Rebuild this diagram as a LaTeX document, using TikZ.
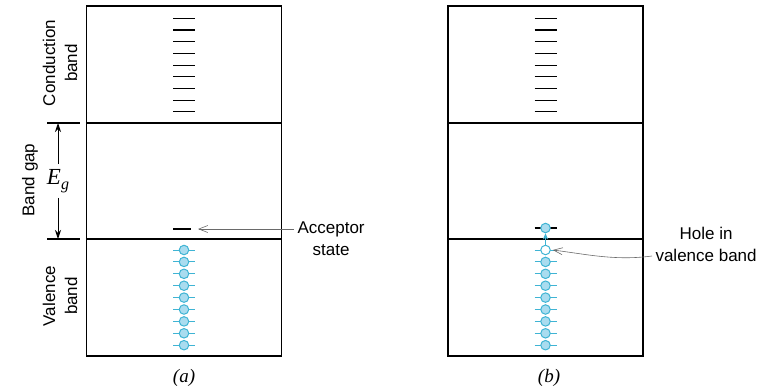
\documentclass[tikz,border=0pt]{standalone}
\usepackage{fontspec}
\usetikzlibrary{arrows.meta, positioning, calc}
\newfontfamily\labelsans{Liberation Sans}
\newfontfamily\labelserif{Liberation Serif}
\definecolor{eline}{HTML}{3FB4D4}
\definecolor{efill}{HTML}{A9DCEF}
\definecolor{pointgray}{HTML}{6A6A6A}

\begin{document}
\begin{tikzpicture}[
  x=1pt, y=-1pt,
  bandbox/.style={rectangle, draw=black, line width=1.1pt, minimum width=195pt,
    minimum height=350pt, inner sep=0pt},
  divider/.style={draw=black, line width=1.1pt},
  level/.style={draw=black, line width=1.1pt},
  elevel/.style={draw=eline, line width=1pt},
  electron/.style={circle, draw=eline, fill=efill, line width=1pt,
    minimum size=9.5pt, inner sep=0pt},
  hole/.style={electron, fill=white},
  lbl/.style={font=\labelsans\fontsize{17}{22}\selectfont, align=center},
  caption/.style={font=\labelserif\fontsize{19}{21}\selectfont\itshape},
  pointer/.style={-{Straight Barb[length=9pt, width=7pt]}, draw=pointgray, line width=0.6pt},
  gaparrow/.style={-{Stealth[length=9pt, width=6pt, inset=3pt]}, line width=0.9pt},
  hop/.style={-{Stealth[length=6pt, width=5pt, inset=1.5pt]}, draw=eline, line width=1.2pt}
]
\useasboundingbox (0,0) rectangle (767,386);

% the two band diagrams
\node (boxa) [bandbox] at (184,181) {};
\node (boxb) [bandbox] at (545.5,181) {};

\coordinate (cba) at (184,123);
\coordinate (vba) at (184,239);
\coordinate (cbb) at (545.5,123);
\coordinate (vbb) at (545.5,239);

\draw [divider] (boxa.west |- cba) -- (boxa.east |- cba);
\draw [divider] (boxa.west |- vba) -- (boxa.east |- vba);
\draw [divider] (boxb.west |- cbb) -- (boxb.east |- cbb);
\draw [divider] (boxb.west |- vbb) -- (boxb.east |- vbb);

% conduction band levels
\foreach \i in {0,...,8} {
  \draw [level] (173,18.3+11.7*\i) -- (195,18.3+11.7*\i);
  \draw [level] (534.5,18.3+11.7*\i) -- (556.5,18.3+11.7*\i);
}

% valence band electrons (a)
\foreach \i in {0,...,8} {
  \draw [elevel] (173,250+11.9*\i) -- (195,250+11.9*\i);
  \node [electron] at (184,250+11.9*\i) {};
}

% valence band electrons (b), top one leaves a hole
\foreach \i in {1,...,8} {
  \draw [elevel] (534.5,250+11.9*\i) -- (556.5,250+11.9*\i);
  \node [electron] at (545.5,250+11.9*\i) {};
}
\draw [elevel] (534.5,250) -- (556.5,250);
\node (holeb) [hole] at (545.5,250) {};

% acceptor levels
\draw [level] (173,229) -- (191,229);
\coordinate (acca) at (198,229);
\draw [level] (534.5,228) -- (556.5,228);
\node (accb) [electron] at (545.5,228) {};
\draw [hop] (holeb.north) -- (accb.south);

% band gap marker
\draw [divider] (47,123) -- (80,123);
\draw [divider] (47,239) -- (80,239);
\node (eg) [font=\labelserif\fontsize{23}{24}\selectfont\itshape, inner sep=5pt] at (58,181)
  {E\raisebox{-5pt}{\fontsize{16}{16}\selectfont g}};
\draw [gaparrow] (eg.north) -- (58,123);
\draw [gaparrow] (eg.south) -- (58,239);

% side labels
\node (cond) [lbl, rotate=90] at (60,63) {Conduction\\band};
\node (gap) [lbl, rotate=90] at (30,180) {Band gap};
\node (val) [lbl, rotate=90] at (60,296) {Valence\\band};

% pointers
\node (acc) [lbl, anchor=west] at (294,239) {Acceptor\\state};
\draw [pointer] (acc.west |- acca) -- (acca);
\node (holetxt) [lbl, anchor=west] at (652,244) {Hole in\\valence band};
\coordinate (holestart) at (holetxt.west |- 0,256);
\draw [pointer] (holestart) .. controls (615,261) and (585,254) .. ($(holeb.east)+(2,0)$);

% captions
\node (capa) [caption] at (184,378) {(a)};
\node (capb) [caption] at (549,378) {(b)};

\end{tikzpicture}
\end{document}
